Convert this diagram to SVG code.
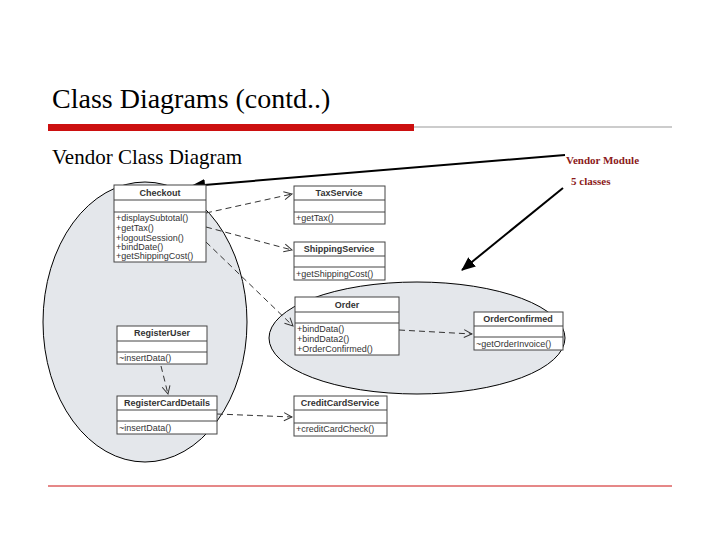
<svg xmlns="http://www.w3.org/2000/svg" width="720" height="540" viewBox="0 0 720 540">
<defs>
<marker id="open" markerWidth="10" markerHeight="10" refX="9" refY="5" orient="auto" markerUnits="userSpaceOnUse"><path d="M1,1 L9,5 L1,9" fill="none" stroke="#333" stroke-width="1"/></marker>
<marker id="solid" markerWidth="14" markerHeight="12" refX="13" refY="6" orient="auto" markerUnits="userSpaceOnUse"><path d="M0,0 L14,6 L0,12 Z" fill="#000"/></marker>
</defs>
<style>
.box{fill:#fff;stroke:#444;stroke-width:1}
.sep{stroke:#444;stroke-width:1}
.nm{font-family:"Liberation Sans",Arial,sans-serif;font-size:9px;font-weight:bold;fill:#333;text-anchor:middle}
.op{font-family:"Liberation Sans",Arial,sans-serif;font-size:9px;fill:#333}
.dep{fill:none;stroke:#333;stroke-width:1;stroke-dasharray:6,4;marker-end:url(#open)}
.ell{fill:#dfe3e8;fill-opacity:0.85;stroke:#000;stroke-width:1}
.serif{font-family:"Liberation Serif","Times New Roman",serif}
</style>
<rect width="720" height="540" fill="#fff"/>
<text class="serif" x="52" y="108" font-size="28" fill="#000">Class Diagrams (contd..)</text>
<rect x="48" y="124" width="366" height="7" fill="#cc1010"/>
<line x1="414" y1="127" x2="672" y2="127" stroke="#999" stroke-width="1"/>
<text class="serif" x="52" y="164" font-size="21" fill="#000">Vendor Class Diagram</text>
<text class="serif" x="566" y="164" font-size="11" font-weight="bold" fill="#8b1a1a">Vendor Module</text>
<text class="serif" x="571" y="185" font-size="11" font-weight="bold" fill="#8b1a1a">5 classes</text>
<rect x="112" y="183" width="453" height="257" fill="#fff"/>
<ellipse class="ell" cx="145" cy="322" rx="102" ry="140"/>
<ellipse class="ell" cx="417" cy="338" rx="148" ry="56"/>
<g id="connectors">
<path class="dep" d="M206,213 L292,194"/>
<path class="dep" d="M206,227 L292,250"/>
<path class="dep" d="M206,242 L293,326"/>
<path class="dep" d="M399,330 L472,334"/>
<path class="dep" d="M161,366 L168,394"/>
<path class="dep" d="M217,414 L292,417"/>
<line x1="565" y1="155" x2="192" y2="186" stroke="#000" stroke-width="2" marker-end="url(#solid)"/>
<line x1="563" y1="188" x2="462" y2="270" stroke="#000" stroke-width="2" marker-end="url(#solid)"/>
</g>
<g id="Checkout"><rect class="box" x="114" y="185" width="92" height="77"/><line class="sep" x1="114" y1="200" x2="206" y2="200"/><line class="sep" x1="114" y1="212" x2="206" y2="212"/><text class="nm" x="160" y="196">Checkout</text>
<text class="op" x="116" y="221">+displaySubtotal()</text><text class="op" x="116" y="231">+getTax()</text><text class="op" x="116" y="241">+logoutSession()</text><text class="op" x="116" y="250">+bindDate()</text><text class="op" x="116" y="259">+getShippingCost()</text></g>
<g id="TaxService"><rect class="box" x="294" y="186" width="91" height="38"/><line class="sep" x1="294" y1="200" x2="385" y2="200"/><line class="sep" x1="294" y1="212" x2="385" y2="212"/><text class="nm" x="339" y="196">TaxService</text><text class="op" x="296" y="221">+getTax()</text></g>
<g id="ShippingService"><rect class="box" x="294" y="242" width="91" height="38"/><line class="sep" x1="294" y1="256" x2="385" y2="256"/><line class="sep" x1="294" y1="267" x2="385" y2="267"/><text class="nm" x="339" y="252">ShippingService</text><text class="op" x="296" y="277">+getShippingCost()</text></g>
<g id="Order"><rect class="box" x="295" y="297" width="104" height="58"/><line class="sep" x1="295" y1="312" x2="399" y2="312"/><line class="sep" x1="295" y1="323" x2="399" y2="323"/><text class="nm" x="347" y="308">Order</text><text class="op" x="297" y="332">+bindData()</text><text class="op" x="297" y="342">+bindData2()</text><text class="op" x="297" y="352">+OrderConfirmed()</text></g>
<g id="OrderConfirmed"><rect class="box" x="474" y="312" width="89" height="38"/><line class="sep" x1="474" y1="326" x2="563" y2="326"/><line class="sep" x1="474" y1="337" x2="563" y2="337"/><text class="nm" x="518" y="322">OrderConfirmed</text><text class="op" x="476" y="347">~getOrderInvoice()</text></g>
<g id="RegisterUser"><rect class="box" x="117" y="326" width="90" height="38"/><line class="sep" x1="117" y1="341" x2="207" y2="341"/><line class="sep" x1="117" y1="352" x2="207" y2="352"/><text class="nm" x="162" y="336">RegisterUser</text><text class="op" x="119" y="361">~insertData()</text></g>
<g id="RegisterCardDetails"><rect class="box" x="117" y="396" width="100" height="38"/><line class="sep" x1="117" y1="410" x2="217" y2="410"/><line class="sep" x1="117" y1="421" x2="217" y2="421"/><text class="nm" x="167" y="406">RegisterCardDetails</text><text class="op" x="119" y="431">~insertData()</text></g>
<g id="CreditCardService"><rect class="box" x="294" y="396" width="93" height="40"/><line class="sep" x1="294" y1="410" x2="387" y2="410"/><line class="sep" x1="294" y1="423" x2="387" y2="423"/><text class="nm" x="340" y="406">CreditCardService</text><text class="op" x="296" y="432">+creditCardCheck()</text></g>
<line x1="48" y1="486" x2="672" y2="486" stroke="#cc1010" stroke-width="1"/>
</svg>
